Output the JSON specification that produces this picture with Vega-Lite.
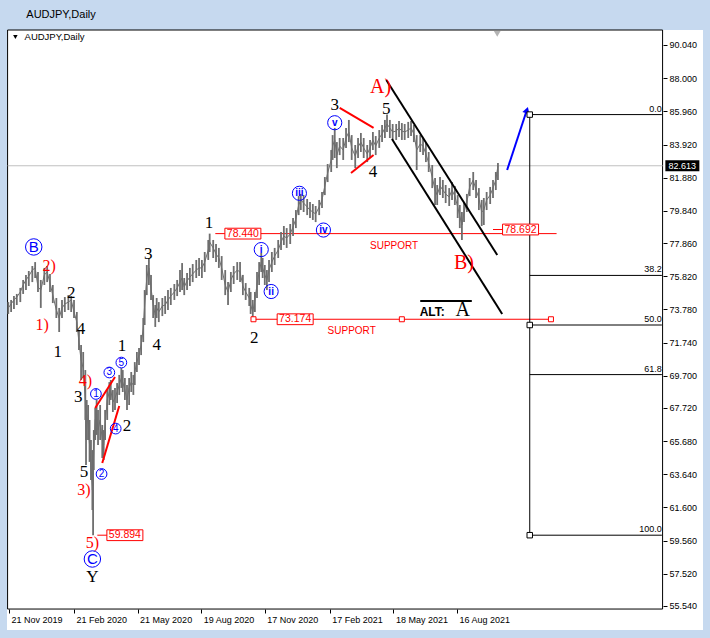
{
"$schema": "https://vega.github.io/schema/vega-lite/v6.json",
"width": 696, "height": 600,
"autosize": {"type": "none"},
"padding": {"left": 7, "top": 30, "right": 7, "bottom": 8},
"background": "#c6d9ef",
"view": {"fill": "#ffffff", "stroke": null},
"title": {"text": "AUDJPY,Daily", "anchor": "start", "dx": 20, "offset": 10, "fontSize": 11, "font": "Liberation Sans", "fontWeight": "normal", "color": "#000000"},
"config": {"text": {"font": "Liberation Sans"}},
"datasets": {
"frame": [{"d":"2019-11-19","d2":"2022-06-03","p":55.353,"p2":90.962}],
"cur": [{"d":"2019-11-19","d2":"2022-06-03","p":82.613}],
"sup": [
{"d":"2020-09-08","d2":"2022-01-04","p":78.44},
{"d":"2020-11-01","d2":"2021-12-27","p":73.174},
{"d":"2020-03-25","d2":"2020-04-08","p":59.894},
{"d":"2021-10-06","d2":"2021-10-20","p":78.692}
],
"seg": [
{"d":"2021-03-03","d2":"2021-04-20","p":86.17,"p2":84.94,"k":"r"},
{"d":"2021-03-19","d2":"2021-04-20","p":82.17,"p2":83.27,"k":"r"},
{"d":"2020-03-22","d2":"2020-04-19","p":67.72,"p2":69.62,"k":"r"},
{"d":"2020-04-01","d2":"2020-04-25","p":64.33,"p2":67.84,"k":"r"},
{"d":"2021-05-08","d2":"2021-10-12","p":87.89,"p2":77.13,"k":"k"},
{"d":"2021-05-16","d2":"2021-10-19","p":84.26,"p2":73.50,"k":"k"},
{"d":"2021-06-25","d2":"2021-09-06","p":74.30,"p2":74.30,"k":"k"},
{"d":"2021-10-26","d2":"2021-11-22","p":82.35,"p2":85.92,"k":"b"}
],
"fibh": [
{"d":"2021-11-27","d2":"2022-06-02","p":85.76,"t":"0.0"},
{"d":"2021-11-27","d2":"2022-06-02","p":75.87,"t":"38.2"},
{"d":"2021-11-27","d2":"2022-06-02","p":72.82,"t":"50.0"},
{"d":"2021-11-27","d2":"2022-06-02","p":69.77,"t":"61.8"},
{"d":"2021-11-27","d2":"2022-06-02","p":59.894,"t":"100.0"}
],
"fibv": [{"d":"2021-11-27","p":85.76,"p2":59.894}],
"fibsq": [{"d":"2021-11-27","p":85.76},{"d":"2021-11-27","p":72.82},{"d":"2021-11-27","p":59.894}],
"redsq": [{"d":"2020-11-01","p":73.174},{"d":"2021-05-30","p":73.174},{"d":"2021-12-27","p":73.174}],
"boxes": [
{"d":"2020-10-17","p":78.44,"t":"78.440"},
{"d":"2020-12-30","p":73.174,"t":"73.174"},
{"d":"2021-11-14","p":78.692,"t":"78.692"},
{"d":"2020-05-03","p":59.894,"t":"59.894"}
],
"curlab": [{"d":"2022-07-01","p":82.613,"t":"82.613"}],
"arrowhead": [{"d":"2021-11-23","p":86.04}],
"hdrtri": [{"d":"2019-11-30","p":90.53}],
"topmark": [{"d":"2021-10-12","p":90.72}],
"txt": [
{"d":"2020-01-29","p":71.16,"t":"1","g":"w"},
{"d":"2020-02-17","p":74.79,"t":"2","g":"w"},
{"d":"2020-03-02","p":72.57,"t":"4","g":"w"},
{"d":"2020-02-27","p":68.39,"t":"3","g":"w"},
{"d":"2020-03-06","p":63.80,"t":"5","g":"w"},
{"d":"2020-04-29","p":71.53,"t":"1","g":"w"},
{"d":"2020-05-06","p":66.61,"t":"2","g":"w"},
{"d":"2020-06-05","p":77.19,"t":"3","g":"w"},
{"d":"2020-06-17","p":71.59,"t":"4","g":"w"},
{"d":"2020-08-30","p":79.09,"t":"1","g":"w"},
{"d":"2020-11-02","p":72.02,"t":"2","g":"w"},
{"d":"2021-02-24","p":86.35,"t":"3","g":"w"},
{"d":"2021-04-19","p":82.23,"t":"4","g":"w"},
{"d":"2021-05-08","p":86.08,"t":"5","g":"w"},
{"d":"2020-03-18","p":57.35,"t":"Y","g":"w"},
{"d":"2020-01-07","p":72.82,"t":"1)","g":"wr"},
{"d":"2020-01-17","p":76.45,"t":"2)","g":"wr"},
{"d":"2020-03-08","p":69.38,"t":"4)","g":"wr"},
{"d":"2020-03-06","p":62.68,"t":"3)","g":"wr"},
{"d":"2020-03-18","p":59.42,"t":"5)","g":"wr"},
{"d":"2021-04-30","p":87.48,"t":"A)","g":"WR"},
{"d":"2021-08-26","p":76.63,"t":"B)","g":"WR"},
{"d":"2021-08-24","p":73.74,"t":"A","g":"A"},
{"d":"2021-05-19","p":77.68,"t":"SUPPORT","g":"sup"},
{"d":"2021-03-20","p":72.45,"t":"SUPPORT","g":"sup"},
{"d":"2021-07-12","p":73.62,"t":"ALT:","g":"alt"},
{"d":"2019-12-13","p":90.53,"t":"AUDJPY,Daily","g":"hdr"}
],
"circ": [
{"d":"2019-12-26","p":77.62,"t":"B","g":"big"},
{"d":"2020-03-18","p":58.43,"t":"C","g":"big"},
{"d":"2020-03-23","p":68.58,"t":"1","g":"num"},
{"d":"2020-03-31","p":63.66,"t":"2","g":"num"},
{"d":"2020-04-11","p":69.90,"t":"3","g":"num"},
{"d":"2020-04-20","p":66.45,"t":"4","g":"num"},
{"d":"2020-04-28","p":70.51,"t":"5","g":"num"},
{"d":"2020-11-12","p":77.46,"t":"i","g":"rom"},
{"d":"2020-11-26","p":74.88,"t":"ii","g":"rom"},
{"d":"2021-01-05","p":80.92,"t":"iii","g":"rom"},
{"d":"2021-02-08","p":78.66,"t":"iv","g":"rom"},
{"d":"2021-02-24","p":85.26,"t":"v","g":"rom"}
],
"price": [
{"d":"2019-11-20","hi":74.23,"lo":73.50,"p":73.87},
{"d":"2019-11-24","hi":74.36,"lo":73.62,"p":74.11},
{"d":"2019-11-28","hi":74.60,"lo":73.80,"p":74.36},
{"d":"2019-12-02","hi":74.73,"lo":74.05,"p":74.54},
{"d":"2019-12-07","hi":75.10,"lo":74.23,"p":74.85},
{"d":"2019-12-11","hi":75.59,"lo":74.73,"p":75.28},
{"d":"2019-12-15","hi":75.90,"lo":74.97,"p":75.59},
{"d":"2019-12-19","hi":76.14,"lo":75.22,"p":75.83},
{"d":"2019-12-24","hi":76.45,"lo":75.46,"p":76.20},
{"d":"2019-12-28","hi":76.69,"lo":75.71,"p":76.33},
{"d":"2020-01-01","hi":76.08,"lo":74.85,"p":75.16},
{"d":"2020-01-05","hi":75.59,"lo":73.87,"p":74.97},
{"d":"2020-01-10","hi":76.33,"lo":75.28,"p":75.90},
{"d":"2020-01-14","hi":76.45,"lo":75.46,"p":76.08},
{"d":"2020-01-18","hi":75.96,"lo":74.85,"p":75.40},
{"d":"2020-01-22","hi":75.28,"lo":74.17,"p":74.66},
{"d":"2020-01-27","hi":74.48,"lo":73.25,"p":73.74},
{"d":"2020-01-31","hi":73.87,"lo":72.39,"p":73.25},
{"d":"2020-02-04","hi":74.36,"lo":73.25,"p":73.87},
{"d":"2020-02-08","hi":74.54,"lo":73.62,"p":74.11},
{"d":"2020-02-13","hi":74.66,"lo":73.74,"p":74.23},
{"d":"2020-02-17","hi":74.60,"lo":73.62,"p":74.36},
{"d":"2020-02-21","hi":74.36,"lo":73.25,"p":73.62},
{"d":"2020-02-25","hi":73.62,"lo":72.39,"p":73.00},
{"d":"2020-02-28","hi":72.51,"lo":71.28,"p":71.77},
{"d":"2020-03-02","hi":71.59,"lo":69.44,"p":70.67},
{"d":"2020-03-05","hi":71.16,"lo":69.56,"p":70.17},
{"d":"2020-03-08","hi":70.05,"lo":66.98,"p":68.21},
{"d":"2020-03-09","hi":68.21,"lo":64.21,"p":65.75},
{"d":"2020-03-10","hi":68.21,"lo":65.75,"p":67.29},
{"d":"2020-03-12","hi":67.90,"lo":65.75,"p":66.67},
{"d":"2020-03-14","hi":66.98,"lo":64.40,"p":65.44},
{"d":"2020-03-16","hi":65.75,"lo":63.29,"p":64.21},
{"d":"2020-03-18","hi":65.13,"lo":61.44,"p":62.67},
{"d":"2020-03-19","hi":64.83,"lo":59.894,"p":63.90},
{"d":"2020-03-20","hi":66.36,"lo":63.90,"p":65.13},
{"d":"2020-03-22","hi":67.72,"lo":65.75,"p":66.98},
{"d":"2020-03-24","hi":68.21,"lo":66.06,"p":67.29},
{"d":"2020-03-26","hi":67.59,"lo":65.44,"p":66.36},
{"d":"2020-03-29","hi":67.90,"lo":65.75,"p":66.98},
{"d":"2020-04-01","hi":66.67,"lo":64.64,"p":65.75},
{"d":"2020-04-03","hi":66.36,"lo":64.52,"p":65.44},
{"d":"2020-04-05","hi":67.59,"lo":65.75,"p":66.67},
{"d":"2020-04-08","hi":68.82,"lo":66.98,"p":68.21},
{"d":"2020-04-11","hi":69.31,"lo":67.90,"p":68.70},
{"d":"2020-04-13","hi":69.44,"lo":68.21,"p":68.82},
{"d":"2020-04-16","hi":68.82,"lo":67.47,"p":68.08},
{"d":"2020-04-19","hi":68.95,"lo":67.59,"p":68.33},
{"d":"2020-04-22","hi":69.25,"lo":68.02,"p":68.70},
{"d":"2020-04-25","hi":69.75,"lo":68.52,"p":69.13},
{"d":"2020-04-28","hi":70.17,"lo":68.95,"p":69.56},
{"d":"2020-04-30","hi":70.05,"lo":68.70,"p":69.31},
{"d":"2020-05-03","hi":69.56,"lo":68.21,"p":68.82},
{"d":"2020-05-06","hi":69.13,"lo":67.59,"p":68.21},
{"d":"2020-05-09","hi":69.56,"lo":67.90,"p":68.95},
{"d":"2020-05-12","hi":69.93,"lo":68.70,"p":69.31},
{"d":"2020-05-15","hi":69.75,"lo":68.52,"p":69.13},
{"d":"2020-05-17","hi":70.54,"lo":69.13,"p":69.93},
{"d":"2020-05-20","hi":71.16,"lo":69.93,"p":70.54},
{"d":"2020-05-23","hi":71.41,"lo":70.36,"p":70.97},
{"d":"2020-05-26","hi":72.21,"lo":70.97,"p":71.59},
{"d":"2020-05-29","hi":73.25,"lo":71.77,"p":72.64},
{"d":"2020-05-31","hi":74.97,"lo":72.82,"p":74.05},
{"d":"2020-06-03","hi":76.51,"lo":74.66,"p":75.71},
{"d":"2020-06-06","hi":76.94,"lo":75.28,"p":76.33},
{"d":"2020-06-09","hi":75.90,"lo":74.36,"p":75.10},
{"d":"2020-06-12","hi":74.66,"lo":73.25,"p":74.05},
{"d":"2020-06-15","hi":74.05,"lo":72.70,"p":73.43},
{"d":"2020-06-17","hi":74.48,"lo":73.25,"p":73.87},
{"d":"2020-06-20","hi":74.23,"lo":73.00,"p":73.62},
{"d":"2020-06-25","hi":74.48,"lo":73.37,"p":73.99},
{"d":"2020-06-29","hi":74.60,"lo":73.50,"p":74.05},
{"d":"2020-07-03","hi":74.97,"lo":73.74,"p":74.36},
{"d":"2020-07-07","hi":75.10,"lo":74.05,"p":74.60},
{"d":"2020-07-12","hi":75.34,"lo":74.36,"p":74.85},
{"d":"2020-07-16","hi":75.59,"lo":74.60,"p":75.10},
{"d":"2020-07-20","hi":76.20,"lo":74.85,"p":75.46},
{"d":"2020-07-23","hi":76.63,"lo":74.97,"p":75.71},
{"d":"2020-07-26","hi":75.71,"lo":74.66,"p":75.16},
{"d":"2020-07-30","hi":76.02,"lo":74.97,"p":75.53},
{"d":"2020-08-03","hi":76.33,"lo":75.22,"p":75.77},
{"d":"2020-08-07","hi":76.57,"lo":75.46,"p":75.96},
{"d":"2020-08-12","hi":76.82,"lo":75.71,"p":76.20},
{"d":"2020-08-16","hi":76.94,"lo":75.83,"p":76.33},
{"d":"2020-08-20","hi":76.82,"lo":75.71,"p":76.33},
{"d":"2020-08-24","hi":77.31,"lo":76.08,"p":76.69},
{"d":"2020-08-29","hi":78.05,"lo":76.82,"p":77.43},
{"d":"2020-08-31","hi":78.44,"lo":77.31,"p":77.92},
{"d":"2020-09-05","hi":78.05,"lo":76.94,"p":77.56},
{"d":"2020-09-09","hi":77.80,"lo":76.69,"p":77.19},
{"d":"2020-09-13","hi":77.56,"lo":76.33,"p":76.94},
{"d":"2020-09-17","hi":77.06,"lo":75.59,"p":76.33},
{"d":"2020-09-22","hi":76.20,"lo":74.66,"p":75.28},
{"d":"2020-09-26","hi":75.46,"lo":74.05,"p":74.85},
{"d":"2020-09-30","hi":76.08,"lo":74.85,"p":75.59},
{"d":"2020-10-04","hi":76.45,"lo":75.34,"p":75.96},
{"d":"2020-10-09","hi":76.69,"lo":75.59,"p":76.20},
{"d":"2020-10-13","hi":76.69,"lo":75.46,"p":76.08},
{"d":"2020-10-17","hi":75.90,"lo":74.66,"p":75.22},
{"d":"2020-10-21","hi":75.40,"lo":74.36,"p":74.85},
{"d":"2020-10-26","hi":75.10,"lo":73.99,"p":74.48},
{"d":"2020-10-28","hi":74.85,"lo":73.50,"p":74.05},
{"d":"2020-10-31","hi":74.36,"lo":73.174,"p":73.62},
{"d":"2020-11-03","hi":74.85,"lo":73.62,"p":74.36},
{"d":"2020-11-06","hi":76.08,"lo":74.48,"p":75.28},
{"d":"2020-11-09","hi":76.69,"lo":75.28,"p":76.08},
{"d":"2020-11-12","hi":77.25,"lo":76.08,"p":76.69},
{"d":"2020-11-14","hi":76.94,"lo":75.71,"p":76.33},
{"d":"2020-11-17","hi":76.51,"lo":75.28,"p":75.90},
{"d":"2020-11-20","hi":76.20,"lo":74.97,"p":75.59},
{"d":"2020-11-23","hi":76.82,"lo":75.46,"p":76.20},
{"d":"2020-11-27","hi":77.31,"lo":76.08,"p":76.69},
{"d":"2020-12-01","hi":77.56,"lo":76.51,"p":77.06},
{"d":"2020-12-06","hi":78.05,"lo":76.94,"p":77.43},
{"d":"2020-12-10","hi":78.54,"lo":77.43,"p":77.92},
{"d":"2020-12-14","hi":78.91,"lo":77.74,"p":78.29},
{"d":"2020-12-18","hi":78.78,"lo":77.56,"p":78.17},
{"d":"2020-12-23","hi":79.03,"lo":77.80,"p":78.42},
{"d":"2020-12-27","hi":79.40,"lo":78.29,"p":78.85},
{"d":"2020-12-31","hi":79.89,"lo":78.78,"p":79.34},
{"d":"2021-01-04","hi":80.75,"lo":79.58,"p":80.20},
{"d":"2021-01-07","hi":80.88,"lo":79.89,"p":80.51},
{"d":"2021-01-11","hi":80.81,"lo":79.77,"p":80.32},
{"d":"2021-01-16","hi":80.57,"lo":79.58,"p":80.08},
{"d":"2021-01-20","hi":80.38,"lo":79.40,"p":79.89},
{"d":"2021-01-24","hi":80.26,"lo":79.28,"p":79.77},
{"d":"2021-01-28","hi":80.14,"lo":79.15,"p":79.65},
{"d":"2021-02-02","hi":80.51,"lo":79.58,"p":80.08},
{"d":"2021-02-06","hi":81.00,"lo":80.02,"p":80.51},
{"d":"2021-02-10","hi":81.92,"lo":80.81,"p":81.37},
{"d":"2021-02-14","hi":82.72,"lo":81.61,"p":82.17},
{"d":"2021-02-19","hi":83.58,"lo":82.23,"p":82.97},
{"d":"2021-02-21","hi":84.50,"lo":82.97,"p":83.83},
{"d":"2021-02-24","hi":84.94,"lo":83.09,"p":84.20},
{"d":"2021-02-27","hi":84.07,"lo":82.47,"p":83.27},
{"d":"2021-03-03","hi":84.32,"lo":83.27,"p":83.83},
{"d":"2021-03-08","hi":84.32,"lo":82.97,"p":83.58},
{"d":"2021-03-12","hi":84.94,"lo":83.71,"p":84.32},
{"d":"2021-03-16","hi":85.43,"lo":84.07,"p":84.69},
{"d":"2021-03-20","hi":84.50,"lo":82.97,"p":83.71},
{"d":"2021-03-25","hi":83.89,"lo":82.47,"p":83.21},
{"d":"2021-03-29","hi":84.32,"lo":83.09,"p":83.77},
{"d":"2021-04-02","hi":84.63,"lo":83.46,"p":84.07},
{"d":"2021-04-06","hi":84.32,"lo":83.09,"p":83.71},
{"d":"2021-04-11","hi":83.89,"lo":82.84,"p":83.34},
{"d":"2021-04-15","hi":84.20,"lo":83.09,"p":83.71},
{"d":"2021-04-19","hi":84.69,"lo":83.58,"p":84.20},
{"d":"2021-04-23","hi":84.44,"lo":83.27,"p":83.83},
{"d":"2021-04-28","hi":84.81,"lo":83.71,"p":84.32},
{"d":"2021-05-02","hi":85.12,"lo":84.07,"p":84.57},
{"d":"2021-05-06","hi":85.43,"lo":84.32,"p":84.94},
{"d":"2021-05-09","hi":85.76,"lo":84.69,"p":85.18},
{"d":"2021-05-13","hi":85.43,"lo":84.32,"p":84.94},
{"d":"2021-05-17","hi":85.18,"lo":84.20,"p":84.69},
{"d":"2021-05-22","hi":85.18,"lo":84.20,"p":84.75},
{"d":"2021-05-26","hi":85.37,"lo":84.38,"p":84.94},
{"d":"2021-05-30","hi":85.24,"lo":84.20,"p":84.75},
{"d":"2021-06-03","hi":85.18,"lo":84.20,"p":84.69},
{"d":"2021-06-08","hi":85.31,"lo":84.32,"p":84.81},
{"d":"2021-06-12","hi":85.37,"lo":84.44,"p":84.94},
{"d":"2021-06-16","hi":85.12,"lo":84.07,"p":84.57},
{"d":"2021-06-20","hi":84.50,"lo":82.35,"p":83.58},
{"d":"2021-06-25","hi":84.50,"lo":83.46,"p":83.95},
{"d":"2021-06-29","hi":84.32,"lo":83.27,"p":83.83},
{"d":"2021-07-03","hi":84.01,"lo":82.84,"p":83.34},
{"d":"2021-07-07","hi":83.46,"lo":82.23,"p":82.78},
{"d":"2021-07-12","hi":82.66,"lo":81.24,"p":81.92},
{"d":"2021-07-16","hi":81.86,"lo":80.20,"p":81.12},
{"d":"2021-07-19","hi":81.43,"lo":80.20,"p":80.81},
{"d":"2021-07-23","hi":81.92,"lo":80.81,"p":81.37},
{"d":"2021-07-27","hi":81.74,"lo":80.63,"p":81.12},
{"d":"2021-07-31","hi":81.43,"lo":80.32,"p":80.88},
{"d":"2021-08-05","hi":81.24,"lo":80.14,"p":80.69},
{"d":"2021-08-09","hi":81.61,"lo":80.51,"p":81.12},
{"d":"2021-08-13","hi":81.37,"lo":80.20,"p":80.75},
{"d":"2021-08-17","hi":80.81,"lo":79.40,"p":80.08},
{"d":"2021-08-20","hi":80.20,"lo":78.78,"p":79.52},
{"d":"2021-08-23","hi":79.77,"lo":78.05,"p":78.97},
{"d":"2021-08-26","hi":80.32,"lo":79.15,"p":79.77},
{"d":"2021-08-30","hi":80.88,"lo":79.77,"p":80.38},
{"d":"2021-09-03","hi":81.86,"lo":80.75,"p":81.31},
{"d":"2021-09-08","hi":82.23,"lo":81.12,"p":81.74},
{"d":"2021-09-12","hi":81.74,"lo":80.63,"p":81.12},
{"d":"2021-09-16","hi":81.24,"lo":79.89,"p":80.63},
{"d":"2021-09-20","hi":80.51,"lo":78.91,"p":79.77},
{"d":"2021-09-23","hi":80.63,"lo":78.97,"p":79.89},
{"d":"2021-09-27","hi":81.00,"lo":79.89,"p":80.51},
{"d":"2021-10-02","hi":81.31,"lo":80.26,"p":80.81},
{"d":"2021-10-06","hi":81.74,"lo":80.63,"p":81.24},
{"d":"2021-10-10","hi":82.23,"lo":81.12,"p":81.74},
{"d":"2021-10-13","hi":82.78,"lo":81.74,"p":82.61}
]
},
"encoding": {
"x": {"field": "d", "type": "temporal",
 "scale": {"type": "utc", "domain": [{"year":2019,"month":11,"date":18,"hours":4,"utc":true},{"year":2022,"month":7,"date":30,"hours":5,"utc":true}]},
 "axis": {"title": null, "orient": "bottom", "offset": -21, "domain": false, "grid": false,
  "values": [{"year":2019,"month":11,"date":21,"utc":true},{"year":2020,"month":2,"date":21,"utc":true},{"year":2020,"month":5,"date":21,"utc":true},{"year":2020,"month":8,"date":19,"utc":true},{"year":2020,"month":11,"date":17,"utc":true},{"year":2021,"month":2,"date":17,"utc":true},{"year":2021,"month":5,"date":18,"utc":true},{"year":2021,"month":8,"date":16,"utc":true}],
  "format": "%d %b %Y", "labelAlign": "left", "labelBaseline": "top", "labelPadding": 2, "labelOffset": 2, "labelFlush": false, "labelOverlap": false,
  "tickSize": 4, "tickColor": "#000000", "tickWidth": 1, "labelColor": "#000000", "labelFont": "Liberation Sans", "labelFontSize": 9}},
"y": {"field": "p", "type": "quantitative",
 "scale": {"domain": [54.064, 90.962], "zero": false, "nice": false},
 "axis": {"title": null, "orient": "right", "offset": -40, "domain": false, "grid": false,
  "values": [90.04, 88.0, 85.96, 83.92, 81.88, 79.84, 77.86, 75.82, 73.78, 71.74, 69.70, 67.72, 65.68, 63.64, 61.60, 59.56, 57.52, 55.54],
  "format": ".3f", "labelPadding": 2, "labelAlign": "left", "labelBaseline": "middle", "labelFlush": false, "labelOverlap": false,
  "tickSize": 4, "tickColor": "#000000", "tickWidth": 1, "labelColor": "#000000", "labelFont": "Liberation Sans", "labelFontSize": 9}}
},
"layer": [
{"data": {"name": "frame"}, "mark": {"type": "rect", "fill": "transparent", "stroke": "#000000", "strokeWidth": 1},
 "encoding": {"x2": {"field": "d2"}, "y2": {"field": "p2"}}},
{"data": {"name": "cur"}, "mark": {"type": "rule", "color": "#c0c0c0", "strokeWidth": 1},
 "encoding": {"x2": {"field": "d2"}}},
{"data": {"name": "sup"}, "mark": {"type": "rule", "color": "#ff0000", "strokeWidth": 1},
 "encoding": {"x2": {"field": "d2"}}},
{"data": {"name": "fibh"}, "mark": {"type": "rule", "color": "#000000", "strokeWidth": 1},
 "encoding": {"x2": {"field": "d2"}}},
{"data": {"name": "fibv"}, "mark": {"type": "rule", "color": "#000000", "strokeWidth": 1},
 "encoding": {"y2": {"field": "p2"}}},
{"data": {"name": "price"}, "mark": {"type": "rule", "color": "#6e6e6e", "strokeWidth": 1.8},
 "encoding": {"y": {"field": "lo", "type": "quantitative", "scale": {"domain": [54.064, 90.962], "zero": false, "nice": false}}, "y2": {"field": "hi"}}},
{"data": {"name": "price"}, "mark": {"type": "line", "color": "#6e6e6e", "strokeWidth": 1}},
{"data": {"name": "seg"}, "mark": {"type": "rule", "strokeWidth": 2},
 "encoding": {"x2": {"field": "d2"}, "y2": {"field": "p2"},
  "color": {"field": "k", "type": "nominal", "scale": {"domain": ["r","k","b"], "range": ["#ff0000","#000000","#0000ff"]}, "legend": null}}},
{"data": {"name": "arrowhead"}, "mark": {"type": "point", "shape": "triangle-up", "angle": 18, "size": 55, "filled": true, "color": "#0000ff", "opacity": 1}},
{"data": {"name": "fibh"}, "mark": {"type": "text", "align": "right", "baseline": "bottom", "dy": -1, "fontSize": 9, "color": "#000000", "font": "Liberation Sans"},
 "encoding": {"x": {"field": "d2", "type": "temporal", "scale": {"type": "utc"}}, "text": {"field": "t"}}},
{"data": {"name": "fibsq"}, "mark": {"type": "point", "shape": "square", "size": 30, "filled": true, "fill": "#ffffff", "stroke": "#000000", "strokeWidth": 1, "opacity": 1}},
{"data": {"name": "redsq"}, "mark": {"type": "point", "shape": "square", "size": 25, "filled": true, "fill": "#ffffff", "stroke": "#ff0000", "strokeWidth": 1, "opacity": 1}},
{"data": {"name": "boxes"}, "mark": {"type": "point", "shape": "M-1,-0.3L1,-0.3L1,0.3L-1,0.3Z", "size": 1296, "filled": true, "fill": "#ffffff", "stroke": "#ff0000", "strokeWidth": 1, "opacity": 1}},
{"data": {"name": "boxes"}, "mark": {"type": "text", "align": "center", "baseline": "middle", "fontSize": 10.5, "color": "#ff0000", "font": "Liberation Sans"},
 "encoding": {"text": {"field": "t"}}},
{"data": {"name": "curlab"}, "mark": {"type": "point", "shape": "M-1,-0.33L1,-0.33L1,0.33L-1,0.33Z", "size": 1156, "filled": true, "fill": "#000000", "strokeWidth": 0, "opacity": 1}},
{"data": {"name": "curlab"}, "mark": {"type": "text", "align": "center", "baseline": "middle", "fontSize": 9, "color": "#ffffff", "font": "Liberation Sans"},
 "encoding": {"text": {"field": "t"}}},
{"data": {"name": "hdrtri"}, "mark": {"type": "point", "shape": "triangle-down", "size": 20, "filled": true, "color": "#000000", "opacity": 1}},
{"data": {"name": "topmark"}, "mark": {"type": "point", "shape": "triangle-down", "size": 45, "filled": true, "color": "#b4b4b4", "opacity": 1}},
{"data": {"name": "txt"}, "transform": [{"filter": "datum.g == 'w'"}], "mark": {"type": "text", "align": "center", "baseline": "middle", "font": "Liberation Serif", "fontSize": 17, "color": "#000000"},
 "encoding": {"text": {"field": "t"}}},
{"data": {"name": "txt"}, "transform": [{"filter": "datum.g == 'wr'"}], "mark": {"type": "text", "align": "center", "baseline": "middle", "font": "Liberation Serif", "fontSize": 16, "color": "#ff0000"},
 "encoding": {"text": {"field": "t"}}},
{"data": {"name": "txt"}, "transform": [{"filter": "datum.g == 'WR'"}], "mark": {"type": "text", "align": "center", "baseline": "middle", "font": "Liberation Serif", "fontSize": 20, "color": "#ff0000"},
 "encoding": {"text": {"field": "t"}}},
{"data": {"name": "txt"}, "transform": [{"filter": "datum.g == 'A'"}], "mark": {"type": "text", "align": "center", "baseline": "middle", "font": "Liberation Serif", "fontSize": 20, "color": "#000000"},
 "encoding": {"text": {"field": "t"}}},
{"data": {"name": "txt"}, "transform": [{"filter": "datum.g == 'sup'"}], "mark": {"type": "text", "align": "center", "baseline": "middle", "font": "Liberation Sans", "fontSize": 10, "color": "#ff0000"},
 "encoding": {"text": {"field": "t"}}},
{"data": {"name": "txt"}, "transform": [{"filter": "datum.g == 'alt'"}], "mark": {"type": "text", "align": "center", "baseline": "middle", "font": "Liberation Sans", "fontSize": 12, "fontWeight": "bold", "color": "#000000"},
 "encoding": {"text": {"field": "t"}}},
{"data": {"name": "txt"}, "transform": [{"filter": "datum.g == 'hdr'"}], "mark": {"type": "text", "align": "left", "baseline": "middle", "font": "Liberation Sans", "fontSize": 9.5, "color": "#000000"},
 "encoding": {"text": {"field": "t"}}},
{"data": {"name": "circ"}, "transform": [{"filter": "datum.g == 'big'"}], "mark": {"type": "point", "shape": "circle", "size": 270, "filled": false, "stroke": "#0000ff", "strokeWidth": 1, "opacity": 1}},
{"data": {"name": "circ"}, "transform": [{"filter": "datum.g == 'num'"}], "mark": {"type": "point", "shape": "circle", "size": 115, "filled": false, "stroke": "#0000ff", "strokeWidth": 1, "opacity": 1}},
{"data": {"name": "circ"}, "transform": [{"filter": "datum.g == 'rom'"}], "mark": {"type": "point", "shape": "circle", "size": 200, "filled": false, "stroke": "#0000ff", "strokeWidth": 1, "opacity": 1}},
{"data": {"name": "circ"}, "transform": [{"filter": "datum.g == 'big'"}], "mark": {"type": "text", "align": "center", "baseline": "middle", "font": "Liberation Sans", "fontSize": 15, "color": "#0000ff"},
 "encoding": {"text": {"field": "t"}}},
{"data": {"name": "circ"}, "transform": [{"filter": "datum.g == 'num'"}], "mark": {"type": "text", "align": "center", "baseline": "middle", "font": "Liberation Sans", "fontSize": 10, "color": "#0000ff"},
 "encoding": {"text": {"field": "t"}}},
{"data": {"name": "circ"}, "transform": [{"filter": "datum.g == 'rom'"}], "mark": {"type": "text", "align": "center", "baseline": "middle", "font": "Liberation Sans", "fontSize": 10, "fontWeight": "bold", "color": "#0000ff"},
 "encoding": {"text": {"field": "t"}}}
]
}
